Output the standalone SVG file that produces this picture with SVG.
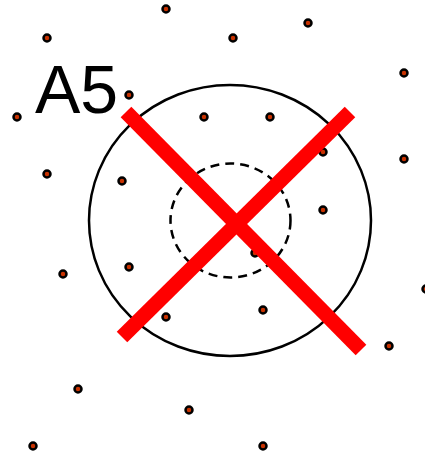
<svg xmlns="http://www.w3.org/2000/svg" width="425" height="455" viewBox="0 0 425 455">
<style>
.dot{fill:#c83200;stroke:#000;stroke-width:2.5}
.ring{fill:none;stroke:#000;stroke-width:2.5}
.dash{fill:none;stroke:#000;stroke-width:2.5;stroke-dasharray:9 6}
.cross{stroke:#ff0000;stroke-width:15;stroke-linecap:butt}
.lbl{font-family:"Liberation Sans",Arial,sans-serif;font-size:68px;fill:#000}
</style>
<rect width="425" height="455" fill="#fff"/>
<g id="dots">
<circle class="dot" cx="166" cy="9" r="3.5"/>
<circle class="dot" cx="47" cy="38" r="3.5"/>
<circle class="dot" cx="233" cy="38" r="3.5"/>
<circle class="dot" cx="308" cy="23" r="3.5"/>
<circle class="dot" cx="404" cy="73" r="3.5"/>
<circle class="dot" cx="129" cy="95" r="3.5"/>
<circle class="dot" cx="17" cy="117" r="3.5"/>
<circle class="dot" cx="204" cy="117" r="3.5"/>
<circle class="dot" cx="270" cy="117" r="3.5"/>
<circle class="dot" cx="323" cy="152" r="3.5"/>
<circle class="dot" cx="404" cy="159" r="3.5"/>
<circle class="dot" cx="47" cy="174" r="3.5"/>
<circle class="dot" cx="122" cy="181" r="3.5"/>
<circle class="dot" cx="323" cy="210" r="3.5"/>
<circle class="dot" cx="255" cy="253" r="3.5"/>
<circle class="dot" cx="63" cy="274" r="3.5"/>
<circle class="dot" cx="129" cy="267" r="3.5"/>
<circle class="dot" cx="166" cy="317" r="3.5"/>
<circle class="dot" cx="263" cy="310" r="3.5"/>
<circle class="dot" cx="426" cy="289" r="3.5"/>
<circle class="dot" cx="389" cy="346" r="3.5"/>
<circle class="dot" cx="78" cy="389" r="3.5"/>
<circle class="dot" cx="189" cy="410" r="3.5"/>
<circle class="dot" cx="33" cy="446" r="3.5"/>
<circle class="dot" cx="263" cy="446" r="3.5"/>
</g>
<g id="outer"><ellipse class="ring" cx="230" cy="220.5" rx="141" ry="135.5"/></g>
<g id="inner"><ellipse class="dash" cx="230.5" cy="220.5" rx="60" ry="57"/></g>
<g id="cross">
<line class="cross" x1="126" y1="112" x2="361" y2="350"/>
<line class="cross" x1="350" y1="112" x2="122" y2="337"/>
</g>
<g id="label"><text class="lbl" x="35" y="113">A5</text></g>
</svg>
